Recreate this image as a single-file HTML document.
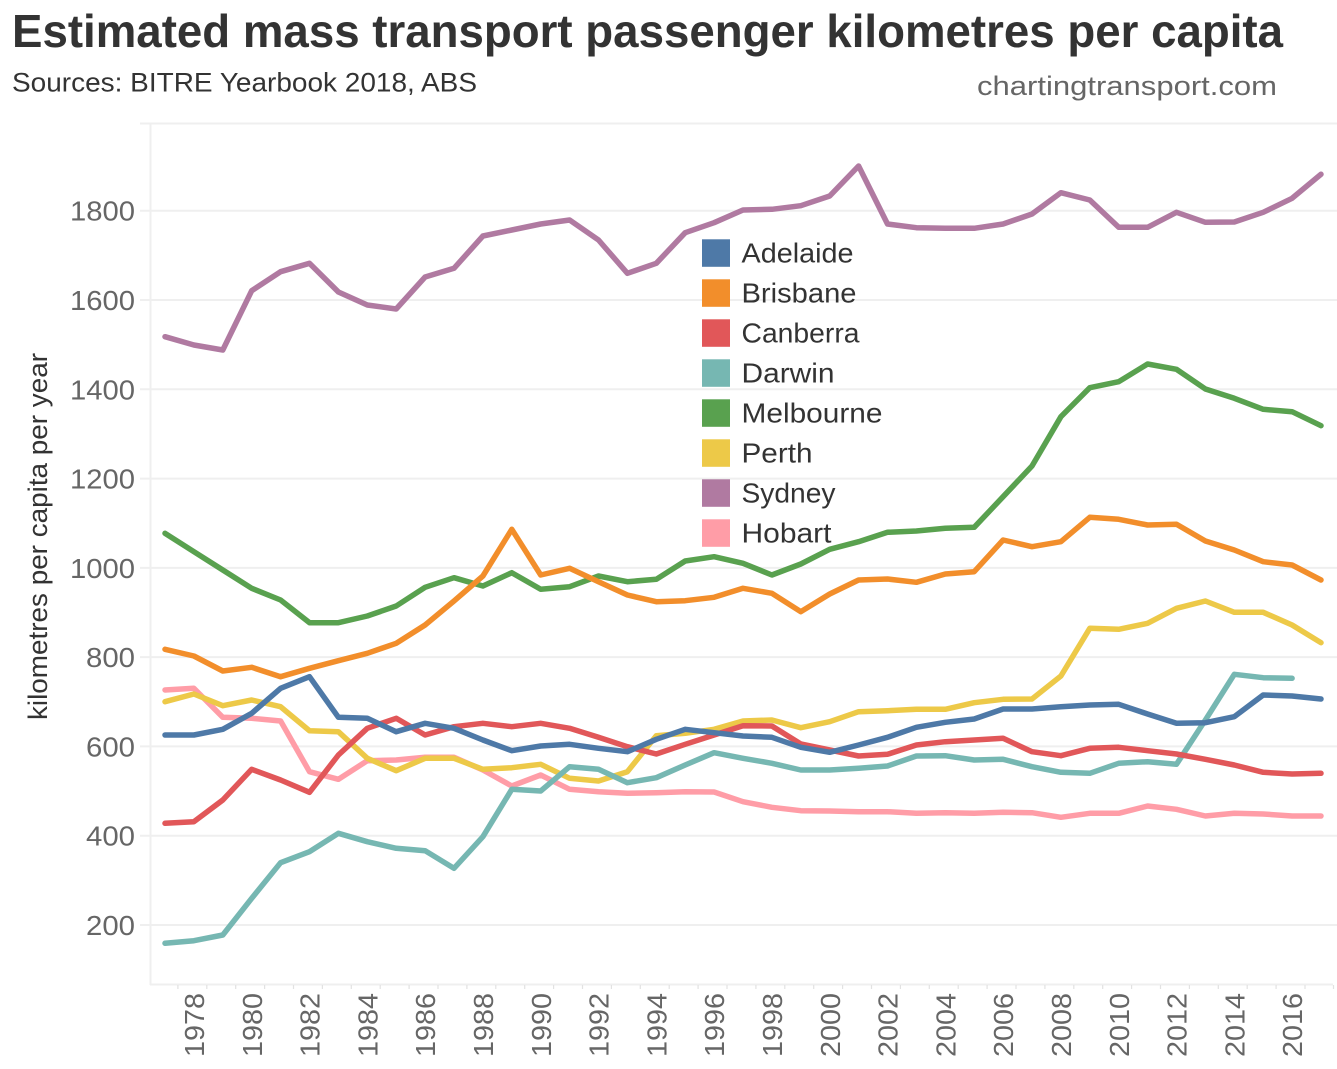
<!DOCTYPE html>
<html>
<head>
<meta charset="utf-8">
<style>
  html, body { margin: 0; padding: 0; background: #ffffff; }
  svg { display: block; }
  text { font-family: "Liberation Sans", "DejaVu Sans", sans-serif; }
</style>
</head>
<body>
<svg width="1337" height="1069" viewBox="0 0 1337 1069" xmlns="http://www.w3.org/2000/svg">
  <rect x="0" y="0" width="1337" height="1069" fill="#ffffff"/>

  <!-- Title & subtitles -->
  <text x="12" y="47" font-size="46" font-weight="bold" fill="#333333" textLength="1271" lengthAdjust="spacingAndGlyphs">Estimated mass transport passenger kilometres per capita</text>
  <text x="12" y="91.5" font-size="27" fill="#333333" textLength="465" lengthAdjust="spacingAndGlyphs">Sources: BITRE Yearbook 2018, ABS</text>
  <text x="977" y="95" font-size="27" fill="#666666" textLength="300" lengthAdjust="spacingAndGlyphs">chartingtransport.com</text>

  <!-- Pane borders / gridlines -->
  <g stroke="#efefef" stroke-width="2" fill="none">
    <line x1="140" y1="123.5" x2="1337" y2="123.5"/>
    <line x1="150.5" y1="123" x2="150.5" y2="985"/>
    <line x1="150" y1="984.5" x2="1333" y2="984.5"/>
    <line x1="140" y1="210.7" x2="1337" y2="210.7"/>
    <line x1="140" y1="300" x2="1337" y2="300"/>
    <line x1="140" y1="389.3" x2="1337" y2="389.3"/>
    <line x1="140" y1="478.6" x2="1337" y2="478.6"/>
    <line x1="140" y1="567.9" x2="1337" y2="567.9"/>
    <line x1="140" y1="657.1" x2="1337" y2="657.1"/>
    <line x1="140" y1="746.4" x2="1337" y2="746.4"/>
    <line x1="140" y1="835.7" x2="1337" y2="835.7"/>
    <line x1="140" y1="925" x2="1337" y2="925"/>
  </g>

  <!-- x ticks -->
  <g stroke="#e2e2e2" stroke-width="1.2">
    <line x1="177.9" y1="985" x2="177.9" y2="989"/>
    <line x1="206.8" y1="985" x2="206.8" y2="989"/>
    <line x1="235.7" y1="985" x2="235.7" y2="989"/>
    <line x1="264.6" y1="985" x2="264.6" y2="989"/>
    <line x1="293.5" y1="985" x2="293.5" y2="989"/>
    <line x1="322.4" y1="985" x2="322.4" y2="989"/>
    <line x1="351.3" y1="985" x2="351.3" y2="989"/>
    <line x1="380.2" y1="985" x2="380.2" y2="989"/>
    <line x1="409.1" y1="985" x2="409.1" y2="989"/>
    <line x1="438" y1="985" x2="438" y2="989"/>
    <line x1="466.9" y1="985" x2="466.9" y2="989"/>
    <line x1="495.8" y1="985" x2="495.8" y2="989"/>
    <line x1="524.7" y1="985" x2="524.7" y2="989"/>
    <line x1="553.6" y1="985" x2="553.6" y2="989"/>
    <line x1="582.5" y1="985" x2="582.5" y2="989"/>
    <line x1="611.4" y1="985" x2="611.4" y2="989"/>
    <line x1="640.3" y1="985" x2="640.3" y2="989"/>
    <line x1="669.2" y1="985" x2="669.2" y2="989"/>
    <line x1="698.1" y1="985" x2="698.1" y2="989"/>
    <line x1="727" y1="985" x2="727" y2="989"/>
    <line x1="755.9" y1="985" x2="755.9" y2="989"/>
    <line x1="784.8" y1="985" x2="784.8" y2="989"/>
    <line x1="813.7" y1="985" x2="813.7" y2="989"/>
    <line x1="842.6" y1="985" x2="842.6" y2="989"/>
    <line x1="871.5" y1="985" x2="871.5" y2="989"/>
    <line x1="900.4" y1="985" x2="900.4" y2="989"/>
    <line x1="929.3" y1="985" x2="929.3" y2="989"/>
    <line x1="958.2" y1="985" x2="958.2" y2="989"/>
    <line x1="987.1" y1="985" x2="987.1" y2="989"/>
    <line x1="1016" y1="985" x2="1016" y2="989"/>
    <line x1="1044.9" y1="985" x2="1044.9" y2="989"/>
    <line x1="1073.8" y1="985" x2="1073.8" y2="989"/>
    <line x1="1102.7" y1="985" x2="1102.7" y2="989"/>
    <line x1="1131.6" y1="985" x2="1131.6" y2="989"/>
    <line x1="1160.5" y1="985" x2="1160.5" y2="989"/>
    <line x1="1189.4" y1="985" x2="1189.4" y2="989"/>
    <line x1="1218.3" y1="985" x2="1218.3" y2="989"/>
    <line x1="1247.2" y1="985" x2="1247.2" y2="989"/>
    <line x1="1276.1" y1="985" x2="1276.1" y2="989"/>
    <line x1="1305" y1="985" x2="1305" y2="989"/>
    <line x1="1333.5" y1="985" x2="1333.5" y2="989"/>
  </g>

  <!-- y tick labels -->
  <g font-size="28" fill="#666666" text-anchor="end">
    <text x="135" y="220.7" textLength="65" lengthAdjust="spacingAndGlyphs">1800</text>
    <text x="135" y="310" textLength="65" lengthAdjust="spacingAndGlyphs">1600</text>
    <text x="135" y="399.3" textLength="65" lengthAdjust="spacingAndGlyphs">1400</text>
    <text x="135" y="488.6" textLength="65" lengthAdjust="spacingAndGlyphs">1200</text>
    <text x="135" y="577.9" textLength="65" lengthAdjust="spacingAndGlyphs">1000</text>
    <text x="135" y="667.1" textLength="49" lengthAdjust="spacingAndGlyphs">800</text>
    <text x="135" y="756.4" textLength="49" lengthAdjust="spacingAndGlyphs">600</text>
    <text x="135" y="845.7" textLength="49" lengthAdjust="spacingAndGlyphs">400</text>
    <text x="135" y="935" textLength="49" lengthAdjust="spacingAndGlyphs">200</text>
  </g>

  <!-- y axis title -->
  <text transform="translate(47,536.5) rotate(-90)" font-size="27" fill="#333333" text-anchor="middle" textLength="367" lengthAdjust="spacingAndGlyphs">kilometres per capita per year</text>

  <!-- x tick labels (rotated) -->
  <g font-size="28" fill="#666666" text-anchor="end">
    <text transform="translate(204,993) rotate(-90)" textLength="64" lengthAdjust="spacingAndGlyphs">1978</text>
    <text transform="translate(261.8,993) rotate(-90)" textLength="64" lengthAdjust="spacingAndGlyphs">1980</text>
    <text transform="translate(319.6,993) rotate(-90)" textLength="64" lengthAdjust="spacingAndGlyphs">1982</text>
    <text transform="translate(377.4,993) rotate(-90)" textLength="64" lengthAdjust="spacingAndGlyphs">1984</text>
    <text transform="translate(435.2,993) rotate(-90)" textLength="64" lengthAdjust="spacingAndGlyphs">1986</text>
    <text transform="translate(493,993) rotate(-90)" textLength="64" lengthAdjust="spacingAndGlyphs">1988</text>
    <text transform="translate(550.8,993) rotate(-90)" textLength="64" lengthAdjust="spacingAndGlyphs">1990</text>
    <text transform="translate(608.6,993) rotate(-90)" textLength="64" lengthAdjust="spacingAndGlyphs">1992</text>
    <text transform="translate(666.4,993) rotate(-90)" textLength="64" lengthAdjust="spacingAndGlyphs">1994</text>
    <text transform="translate(724.2,993) rotate(-90)" textLength="64" lengthAdjust="spacingAndGlyphs">1996</text>
    <text transform="translate(782,993) rotate(-90)" textLength="64" lengthAdjust="spacingAndGlyphs">1998</text>
    <text transform="translate(839.8,993) rotate(-90)" textLength="64" lengthAdjust="spacingAndGlyphs">2000</text>
    <text transform="translate(897.6,993) rotate(-90)" textLength="64" lengthAdjust="spacingAndGlyphs">2002</text>
    <text transform="translate(955.4,993) rotate(-90)" textLength="64" lengthAdjust="spacingAndGlyphs">2004</text>
    <text transform="translate(1013.2,993) rotate(-90)" textLength="64" lengthAdjust="spacingAndGlyphs">2006</text>
    <text transform="translate(1071,993) rotate(-90)" textLength="64" lengthAdjust="spacingAndGlyphs">2008</text>
    <text transform="translate(1128.8,993) rotate(-90)" textLength="64" lengthAdjust="spacingAndGlyphs">2010</text>
    <text transform="translate(1186.6,993) rotate(-90)" textLength="64" lengthAdjust="spacingAndGlyphs">2012</text>
    <text transform="translate(1244.4,993) rotate(-90)" textLength="64" lengthAdjust="spacingAndGlyphs">2014</text>
    <text transform="translate(1302.2,993) rotate(-90)" textLength="64" lengthAdjust="spacingAndGlyphs">2016</text>
  </g>

  <!-- Series -->
  <g fill="none" stroke-width="5.5" stroke-linejoin="round" stroke-linecap="round">
    <!-- Hobart -->
    <polyline stroke="#ff9da7" points="165,690 193.9,688.3 222.8,717.3 251.7,718.3 280.6,721 309.5,771.7 338.4,779.3 367.3,760.7 396.2,760 425.1,757.3 454,757.3 482.9,770 511.8,786 540.7,775 569.6,789.3 598.5,791.7 627.4,793.3 656.3,792.7 685.2,791.7 714.1,792 743,801.7 771.9,807.3 800.8,810.7 829.7,811 858.6,811.7 887.5,811.7 916.4,813.3 945.3,812.7 974.2,813.3 1003.1,812.3 1032,812.7 1060.9,817.3 1089.8,813.3 1118.7,813.3 1147.6,806 1176.5,809.3 1205.4,816 1234.3,813.3 1263.2,814 1292.1,816 1321,816"/>
    <!-- Sydney -->
    <polyline stroke="#b07aa1" points="165,336.7 193.9,345 222.8,350 251.7,290.7 280.6,271.7 309.5,263.3 338.4,292 367.3,305 396.2,309 425.1,277 454,268.3 482.9,236 511.8,230 540.7,224 569.6,220 598.5,240 627.4,273.3 656.3,263.3 685.2,232.7 714.1,222.7 743,210 771.9,209.3 800.8,205.7 829.7,196 858.6,166 887.5,224 916.4,227.7 945.3,228.3 974.2,228.3 1003.1,224 1032,214 1060.9,192.7 1089.8,200 1118.7,227.3 1147.6,227.3 1176.5,212.3 1205.4,222.3 1234.3,222 1263.2,212.3 1292.1,198.3 1321,174.3"/>
    <!-- Perth -->
    <polyline stroke="#edc948" points="165,701.7 193.9,694 222.8,705.7 251.7,700 280.6,706.7 309.5,730.7 338.4,731.7 367.3,758.3 396.2,770.7 425.1,758.3 454,758.3 482.9,769.3 511.8,767.7 540.7,764.3 569.6,778.3 598.5,781 627.4,771.7 656.3,735.7 685.2,733.3 714.1,729.3 743,721 771.9,720 800.8,727.7 829.7,721.7 858.6,711.7 887.5,710.7 916.4,709.3 945.3,709.3 974.2,702.7 1003.1,699.3 1032,699 1060.9,676 1089.8,628.3 1118.7,629.3 1147.6,623.3 1176.5,608.3 1205.4,601 1234.3,612.3 1263.2,612.3 1292.1,625 1321,642.7"/>
    <!-- Melbourne -->
    <polyline stroke="#59a14f" points="165,533.3 193.9,551.7 222.8,570 251.7,588.3 280.6,600 309.5,622.7 338.4,622.7 367.3,616 396.2,606 425.1,587.3 454,577.7 482.9,586 511.8,572.7 540.7,589.3 569.6,586.7 598.5,576 627.4,581.7 656.3,579.3 685.2,561 714.1,556.7 743,563.3 771.9,575 800.8,564 829.7,549.3 858.6,541.7 887.5,532.3 916.4,531 945.3,528.3 974.2,527.3 1003.1,496.7 1032,466 1060.9,416.7 1089.8,387.7 1118.7,381.7 1147.6,364 1176.5,369.3 1205.4,389 1234.3,398.3 1263.2,409.3 1292.1,411.7 1321,425.7"/>
    <!-- Darwin -->
    <polyline stroke="#76b7b2" points="165,943.3 193.9,940.7 222.8,935 251.7,898.3 280.6,862.7 309.5,851.7 338.4,833.3 367.3,841.7 396.2,848.3 425.1,850.7 454,868.3 482.9,836.7 511.8,789.3 540.7,791 569.6,766.7 598.5,769.3 627.4,782.7 656.3,777.7 685.2,765 714.1,752.7 743,758.3 771.9,763.3 800.8,770 829.7,770 858.6,768.3 887.5,766 916.4,756 945.3,755.7 974.2,760 1003.1,759.3 1032,766.7 1060.9,772.3 1089.8,773.3 1118.7,763.3 1147.6,761.7 1176.5,764.3 1205.4,720 1234.3,674.3 1263.2,677.7 1292.1,678.3"/>
    <!-- Canberra -->
    <polyline stroke="#e15759" points="165,823.3 193.9,821.7 222.8,800 251.7,769.3 280.6,780 309.5,792.3 338.4,755 367.3,728.3 396.2,718.3 425.1,735 454,726.7 482.9,723.3 511.8,726.7 540.7,723.3 569.6,728.3 598.5,737.3 627.4,746.7 656.3,754 685.2,744.3 714.1,735 743,725.7 771.9,726 800.8,744 829.7,750 858.6,756 887.5,754.3 916.4,745 945.3,741.7 974.2,740 1003.1,738.3 1032,751.7 1060.9,755.7 1089.8,748.3 1118.7,747.3 1147.6,750.7 1176.5,754 1205.4,759.3 1234.3,765 1263.2,772.3 1292.1,774 1321,773.3"/>
    <!-- Brisbane -->
    <polyline stroke="#f28e2b" points="165,649.3 193.9,656 222.8,671 251.7,667.3 280.6,676.7 309.5,668.3 338.4,660.7 367.3,653.3 396.2,643.3 425.1,625 454,601 482.9,576 511.8,529.3 540.7,575 569.6,568.3 598.5,581.7 627.4,595 656.3,601.7 685.2,600.7 714.1,597.3 743,588.3 771.9,593.3 800.8,611.7 829.7,594 858.6,580 887.5,579 916.4,582.3 945.3,574 974.2,571.7 1003.1,540 1032,546.7 1060.9,541.7 1089.8,517.3 1118.7,519.3 1147.6,525 1176.5,524.3 1205.4,541 1234.3,550 1263.2,561.7 1292.1,565 1321,580"/>
    <!-- Adelaide -->
    <polyline stroke="#4e79a7" points="165,735 193.9,735 222.8,729.3 251.7,713.3 280.6,688.3 309.5,676.7 338.4,717.3 367.3,718.3 396.2,731.7 425.1,723.3 454,728.3 482.9,740 511.8,750.7 540.7,746 569.6,744.3 598.5,748.3 627.4,751.7 656.3,739.3 685.2,729.3 714.1,732.7 743,736 771.9,737.3 800.8,747.3 829.7,752.3 858.6,745 887.5,737.3 916.4,727.3 945.3,722.3 974.2,719 1003.1,709 1032,709 1060.9,706.7 1089.8,705 1118.7,704.3 1147.6,714 1176.5,723.3 1205.4,722.7 1234.3,716.7 1263.2,695 1292.1,696 1321,699"/>
  </g>

  <!-- Legend -->
  <g>
    <rect x="702" y="239.3" width="28" height="27.5" fill="#4e79a7"/>
    <rect x="702" y="279.3" width="28" height="27.5" fill="#f28e2b"/>
    <rect x="702" y="319.3" width="28" height="27.5" fill="#e15759"/>
    <rect x="702" y="359.3" width="28" height="27.5" fill="#76b7b2"/>
    <rect x="702" y="399.3" width="28" height="27.5" fill="#59a14f"/>
    <rect x="702" y="439.3" width="28" height="27.5" fill="#edc948"/>
    <rect x="702" y="479.3" width="28" height="27.5" fill="#b07aa1"/>
    <rect x="702" y="519.3" width="28" height="27.5" fill="#ff9da7"/>
  </g>
  <g font-size="28" fill="#333333">
    <text x="741.5" y="262.7" textLength="112" lengthAdjust="spacingAndGlyphs">Adelaide</text>
    <text x="741.5" y="302.7" textLength="115" lengthAdjust="spacingAndGlyphs">Brisbane</text>
    <text x="741.5" y="342.7" textLength="118" lengthAdjust="spacingAndGlyphs">Canberra</text>
    <text x="741.5" y="382.7" textLength="93" lengthAdjust="spacingAndGlyphs">Darwin</text>
    <text x="741.5" y="422.7" textLength="141" lengthAdjust="spacingAndGlyphs">Melbourne</text>
    <text x="741.5" y="462.7" textLength="71" lengthAdjust="spacingAndGlyphs">Perth</text>
    <text x="741.5" y="502.7" textLength="94" lengthAdjust="spacingAndGlyphs">Sydney</text>
    <text x="741.5" y="542.7" textLength="90" lengthAdjust="spacingAndGlyphs">Hobart</text>
  </g>
</svg>
</body>
</html>
